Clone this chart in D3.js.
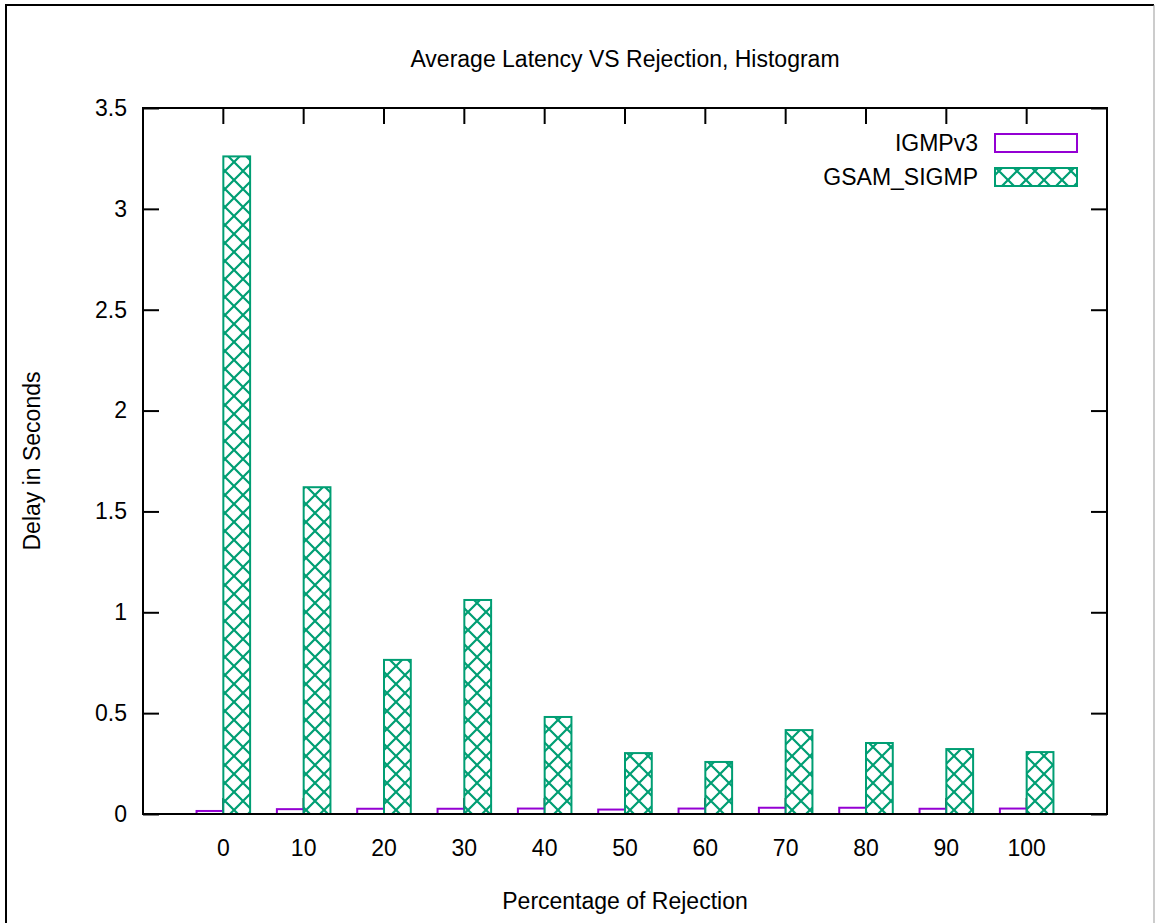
<!DOCTYPE html>
<html>
<head>
<meta charset="utf-8">
<script src="https://cdn.jsdelivr.net/npm/d3@7"></script>
<style>
  html, body { margin: 0; padding: 0; background: #fff; }
  svg { display: block; }
  text { font-family: Arial, "Liberation Sans", Helvetica, sans-serif; fill: #000; }
</style>
</head>
<body>
<svg id="chart" width="1155" height="923"></svg>
<script>
// Rejection percentages along the x axis
const categories = ["0", "10", "20", "30", "40", "50", "60", "70", "80", "90", "100"];
// Average latency (seconds) per series
const igmpv3 = [0.015, 0.024, 0.026, 0.026, 0.027, 0.022, 0.027, 0.031, 0.031, 0.026, 0.027];
const gsamSigmp = [3.26, 1.62, 0.764, 1.061, 0.481, 0.302, 0.258, 0.416, 0.352, 0.322, 0.307];
const seriesNames = ["IGMPv3", "GSAM_SIGMP"];
const yTicks = [0, 0.5, 1, 1.5, 2, 2.5, 3, 3.5];
const yTickLabels = ["0", "0.5", "1", "1.5", "2", "2.5", "3", "3.5"];

const purple = "#9400D3";
const green = "#009E73";
const fontSize = 23;

const svg = d3.select("#chart");
const W = 1155, H = 923;
const m = { left: 143, right: 1107, top: 108, bottom: 814 };

// page border
svg.append("line").attr("x1", 6).attr("y1", 5).attr("x2", 6).attr("y2", H)
  .attr("stroke", "#000").attr("stroke-width", 2);
svg.append("line").attr("x1", 5).attr("y1", 5).attr("x2", W - 1).attr("y2", 5)
  .attr("stroke", "#000").attr("stroke-width", 2);
svg.append("line").attr("x1", W - 1).attr("y1", 5).attr("x2", W - 1).attr("y2", H)
  .attr("stroke", "#999").attr("stroke-width", 1);

// crosshatch fill pattern
const P = 18;
const defs = svg.append("defs");
const pat = defs.append("pattern")
  .attr("id", "crosshatch")
  .attr("patternUnits", "userSpaceOnUse")
  .attr("width", P).attr("height", P);
pat.append("rect").attr("width", P).attr("height", P).attr("fill", "#fff");
pat.append("path")
  .attr("d", `M-1,-1 L${P + 1},${P + 1} M-1,${P + 1} L${P + 1},-1`)
  .attr("stroke", green).attr("stroke-width", 2.2).attr("fill", "none");

const x0 = d3.scaleBand()
  .domain(categories)
  .range([m.left, m.right])
  .paddingInner(0)
  .paddingOuter(0.5);
const bw = x0.bandwidth();
const x1 = d3.scaleBand()
  .domain(seriesNames)
  .range([bw / 6, bw * 5 / 6]);
const y = d3.scaleLinear().domain([0, 3.5]).range([m.bottom, m.top]);

const seriesData = [
  { name: "IGMPv3", values: igmpv3, stroke: purple, fill: "#fff" },
  { name: "GSAM_SIGMP", values: gsamSigmp, stroke: green, fill: "url(#crosshatch)" }
];

// axes: inward ticks on all four sides (drawn beneath the bars)
const tickLen = 16;
const yAxisL = d3.axisLeft(y).tickValues(yTicks).tickFormat((d, i) => yTickLabels[i])
  .tickSizeInner(-tickLen).tickSizeOuter(0).tickPadding(16);
const yAxisR = d3.axisRight(y).tickValues(yTicks).tickFormat("")
  .tickSizeInner(-tickLen).tickSizeOuter(0);
const xAxisB = d3.axisBottom(x0).tickSizeInner(-tickLen).tickSizeOuter(0).tickPadding(26);
const xAxisT = d3.axisTop(x0).tickFormat("").tickSizeInner(-tickLen).tickSizeOuter(0);

function styleAxis(g) {
  g.select(".domain").remove();
  g.selectAll(".tick line").attr("stroke", "#000").attr("stroke-width", 2);
  g.selectAll(".tick text").attr("font-size", fontSize)
    .attr("font-family", "Arial, 'Liberation Sans', sans-serif").attr("fill", "#000");
}
svg.append("g").attr("transform", `translate(${m.left},0)`).call(yAxisL).call(styleAxis);
svg.append("g").attr("transform", `translate(${m.right},0)`).call(yAxisR).call(styleAxis);
svg.append("g").attr("transform", `translate(0,${m.bottom})`).call(xAxisB).call(styleAxis);
svg.append("g").attr("transform", `translate(0,${m.top})`).call(xAxisT).call(styleAxis);

// bars
seriesData.forEach(s => {
  svg.append("g").selectAll("rect")
    .data(categories.map((c, i) => ({ c, v: s.values[i] })))
    .join("rect")
    .attr("x", d => x0(d.c) + x1(s.name))
    .attr("y", d => y(d.v))
    .attr("width", x1.bandwidth())
    .attr("height", d => y(0) - y(d.v))
    .attr("fill", s.fill)
    .attr("stroke", s.stroke)
    .attr("stroke-width", 2);
});

// frame
svg.append("rect")
  .attr("x", m.left).attr("y", m.top)
  .attr("width", m.right - m.left).attr("height", m.bottom - m.top)
  .attr("fill", "none").attr("stroke", "#000").attr("stroke-width", 2);

// title and axis labels
svg.append("text").attr("x", (m.left + m.right) / 2).attr("y", 67)
  .attr("text-anchor", "middle").attr("font-size", fontSize)
  .text("Average Latency VS Rejection, Histogram");
svg.append("text").attr("x", (m.left + m.right) / 2).attr("y", 909)
  .attr("text-anchor", "middle").attr("font-size", fontSize)
  .text("Percentage of Rejection");
svg.append("text")
  .attr("transform", `translate(40,${(m.top + m.bottom) / 2}) rotate(-90)`)
  .attr("text-anchor", "middle").attr("font-size", fontSize)
  .text("Delay in Seconds");

// legend
const legend = svg.append("g");
seriesData.forEach((s, i) => {
  const cy = 143 + i * 34;
  legend.append("text").attr("x", 978).attr("y", cy).attr("dy", "0.35em")
    .attr("text-anchor", "end").attr("font-size", fontSize).text(s.name);
  legend.append("rect").attr("x", 995).attr("y", cy - 9).attr("width", 82).attr("height", 18)
    .attr("fill", s.fill).attr("stroke", s.stroke).attr("stroke-width", 2);
});
</script>
</body>
</html>
